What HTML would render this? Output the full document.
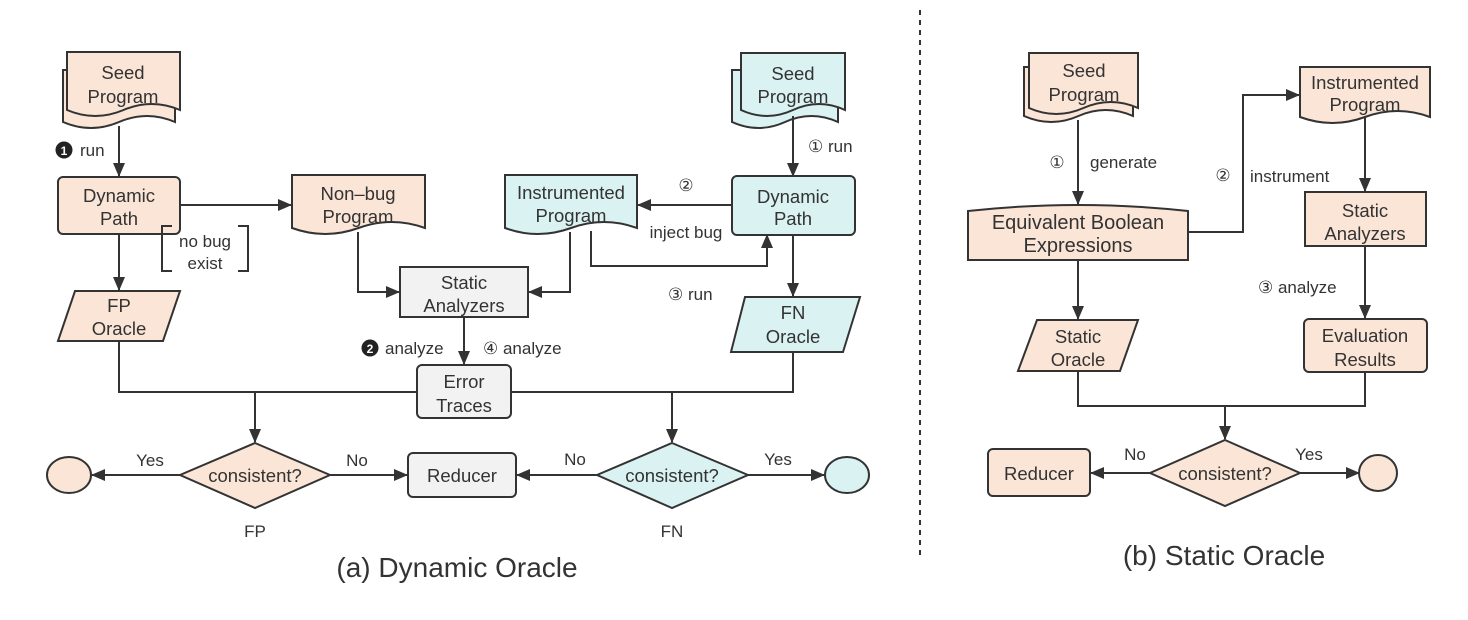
<!DOCTYPE html>
<html><head><meta charset="utf-8"><style>
html,body{margin:0;padding:0;background:#fff;}
svg{display:block;}
text{font-family:"Liberation Sans","DejaVu Sans",sans-serif;fill:#333;}
.n{font-size:18.5px;text-anchor:middle;}
.l{font-size:17px;}
.t{font-size:28px;text-anchor:middle;}
.s{stroke:#333;stroke-width:2;fill:none;}
.p{fill:#fbe5d6;stroke:#333;stroke-width:2;}
.c{fill:#daf2f2;stroke:#333;stroke-width:2;}
.g{fill:#f2f2f2;stroke:#333;stroke-width:2;}
</style></head><body>
<svg width="1468" height="620" viewBox="0 0 1468 620" xmlns="http://www.w3.org/2000/svg">
<defs><marker id="a" viewBox="0 0 14 12" refX="13" refY="6" markerWidth="14" markerHeight="12" markerUnits="userSpaceOnUse" orient="auto"><path d="M0,0 L14,6 L0,12 Z" fill="#333"/></marker></defs>

<line x1="920" y1="10" x2="920" y2="555" stroke="#333" stroke-width="2" stroke-dasharray="5,5"/>

<!-- ===== (a) ===== -->
<path class="p" d="M63,70 H175 V122 Q147,110 119,122 Q91,134 63,122 Z"/>
<path class="p" d="M67,52 H180 V110 Q151.75,98 123.5,110 Q95.25,122 67,110 Z"/>
<text class="n" x="123" y="79">Seed</text><text class="n" x="123" y="103">Program</text>
<path class="s" d="M119,126 V176" marker-end="url(#a)"/>
<circle cx="64" cy="150" r="8.5" fill="#222"/><text x="64" y="155" font-size="12" text-anchor="middle" style="fill:#fff;font-weight:bold">1</text>
<text class="l" x="80" y="156">run</text>

<rect class="p" x="58" y="177" width="122" height="57" rx="5"/>
<text class="n" x="119" y="202">Dynamic</text><text class="n" x="119" y="225">Path</text>
<path class="s" d="M180,205 H291" marker-end="url(#a)"/>
<path class="s" d="M172,226 H162 V271 H172 M238,226 H248 V271 H238" stroke-width="1.5"/>
<text class="l" x="205" y="247" text-anchor="middle">no bug</text><text class="l" x="205" y="269" text-anchor="middle">exist</text>
<path class="s" d="M119,234 V290" marker-end="url(#a)"/>
<path class="p" d="M75,291 H180 L163,341 H58 Z"/>
<text class="n" x="119" y="312">FP</text><text class="n" x="119" y="335">Oracle</text>

<path class="p" d="M292,175 H425 V228 Q391.75,216 358.5,228 Q325.25,240 292,228 Z"/>
<text class="n" x="358" y="200">Non–bug</text><text class="n" x="358" y="223">Program</text>
<path class="s" d="M358,232 V292 H399" marker-end="url(#a)"/>

<rect class="g" x="400" y="267" width="128" height="50"/>
<text class="n" x="464" y="289">Static</text><text class="n" x="464" y="312">Analyzers</text>

<path class="c" d="M505,175 H637 V228 Q604,216 571,228 Q538,240 505,228 Z"/>
<text class="n" x="571" y="199">Instrumented</text><text class="n" x="571" y="222">Program</text>
<path class="s" d="M570,232 V292 H529" marker-end="url(#a)"/>
<path class="s" d="M591,231 V266 H767 V235" marker-end="url(#a)"/>

<path class="c" d="M732,70 H838 V122 Q811.5,110 785,122 Q758.5,134 732,122 Z"/>
<path class="c" d="M741,53 H845 V110 Q819,98 793,110 Q767,122 741,110 Z"/>
<text class="n" x="793" y="80">Seed</text><text class="n" x="793" y="103">Program</text>
<path class="s" d="M793,116 V176" marker-end="url(#a)"/>
<text class="l" x="808" y="152">① run</text>

<rect class="c" x="732" y="176" width="123" height="59" rx="5"/>
<text class="n" x="793" y="203">Dynamic</text><text class="n" x="793" y="225">Path</text>
<path class="s" d="M732,205 H638" marker-end="url(#a)"/>
<text class="l" x="686" y="191" text-anchor="middle">②</text>
<text class="l" x="686" y="238" text-anchor="middle">inject bug</text>
<text class="l" x="668" y="300">③ run</text>
<path class="s" d="M793,235 V296" marker-end="url(#a)"/>
<path class="c" d="M745,297 H860 L843,352 H731 Z"/>
<text class="n" x="793" y="319">FN</text><text class="n" x="793" y="343">Oracle</text>

<path class="s" d="M464,317 V364" marker-end="url(#a)"/>
<circle cx="370" cy="348" r="8.5" fill="#222"/><text x="370" y="353" font-size="12" text-anchor="middle" style="fill:#fff;font-weight:bold">2</text>
<text class="l" x="385" y="354">analyze</text>
<text class="l" x="483" y="354">④ analyze</text>
<rect class="g" x="417" y="365" width="94" height="53" rx="5"/>
<text class="n" x="464" y="388">Error</text><text class="n" x="464" y="412">Traces</text>

<path class="s" d="M119,341 V392 H417"/>
<path class="s" d="M793,352 V392 H511"/>
<path class="s" d="M255,392 V442" marker-end="url(#a)"/>
<path class="s" d="M672,392 V442" marker-end="url(#a)"/>

<path class="p" d="M255,443 L330,475 L255,508 L180,475 Z"/>
<text class="n" x="255" y="482">consistent?</text>
<path class="s" d="M180,475 H92" marker-end="url(#a)"/>
<ellipse class="p" cx="69" cy="475" rx="22" ry="18"/>
<text class="l" x="150" y="466" text-anchor="middle">Yes</text>
<path class="s" d="M330,475 H407" marker-end="url(#a)"/>
<text class="l" x="357" y="466" text-anchor="middle">No</text>
<rect class="g" x="408" y="453" width="108" height="44" rx="5"/>
<text class="n" x="462" y="482">Reducer</text>
<text class="l" x="255" y="537" text-anchor="middle">FP</text>

<path class="c" d="M672,443 L748,475 L672,508 L597,475 Z"/>
<text class="n" x="672" y="482">consistent?</text>
<path class="s" d="M597,475 H517" marker-end="url(#a)"/>
<text class="l" x="575" y="465" text-anchor="middle">No</text>
<path class="s" d="M748,475 H824" marker-end="url(#a)"/>
<text class="l" x="778" y="465" text-anchor="middle">Yes</text>
<ellipse class="c" cx="847" cy="475" rx="22" ry="18"/>
<text class="l" x="672" y="537" text-anchor="middle">FN</text>

<text class="t" x="457" y="577">(a) Dynamic Oracle</text>

<!-- ===== (b) ===== -->
<path class="p" d="M1024,67 H1133 V116 Q1105.75,104 1078.5,116 Q1051.25,128 1024,116 Z"/>
<path class="p" d="M1029,53 H1138 V108 Q1110.75,96 1083.5,108 Q1056.25,120 1029,108 Z"/>
<text class="n" x="1084" y="77">Seed</text><text class="n" x="1084" y="101">Program</text>
<path class="s" d="M1078,120 V204" marker-end="url(#a)"/>
<text class="l" x="1057" y="168" text-anchor="middle">①</text>
<text class="l" x="1090" y="168">generate</text>

<path class="p" d="M968,211 Q1078,199 1188,211 V260 H968 Z"/>
<text x="1078" y="229" font-size="20" text-anchor="middle">Equivalent Boolean</text><text x="1078" y="252" font-size="20" text-anchor="middle">Expressions</text>
<path class="s" d="M1188,232 H1243 V95 H1299" marker-end="url(#a)"/>
<text class="l" x="1223" y="181" text-anchor="middle">②</text>
<text class="l" x="1250" y="182">instrument</text>

<path class="p" d="M1300,67 H1430 V117 Q1397.5,105 1365,117 Q1332.5,129 1300,117 Z"/>
<text class="n" x="1365" y="89">Instrumented</text><text class="n" x="1365" y="111">Program</text>
<path class="s" d="M1365,116 V191" marker-end="url(#a)"/>
<rect class="p" x="1305" y="192" width="121" height="54"/>
<text class="n" x="1365" y="217">Static</text><text class="n" x="1365" y="240">Analyzers</text>
<path class="s" d="M1365,246 V318" marker-end="url(#a)"/>
<text class="l" x="1258" y="293">③ analyze</text>
<rect class="p" x="1304" y="319" width="123" height="53" rx="5"/>
<text class="n" x="1365" y="342">Evaluation</text><text class="n" x="1365" y="366">Results</text>

<path class="s" d="M1078,260 V319" marker-end="url(#a)"/>
<path class="p" d="M1037,320 H1138 L1120,371 H1018 Z"/>
<text class="n" x="1078" y="343">Static</text><text class="n" x="1078" y="366">Oracle</text>

<path class="s" d="M1078,371 V406 H1365 V372"/>
<path class="s" d="M1225,406 V439" marker-end="url(#a)"/>
<path class="p" d="M1225,440 L1300,473 L1225,506 L1150,473 Z"/>
<text class="n" x="1225" y="480">consistent?</text>
<path class="s" d="M1150,473 H1091" marker-end="url(#a)"/>
<text class="l" x="1135" y="460" text-anchor="middle">No</text>
<rect class="p" x="988" y="449" width="102" height="47" rx="5"/>
<text class="n" x="1039" y="480">Reducer</text>
<path class="s" d="M1300,473 H1359" marker-end="url(#a)"/>
<text class="l" x="1309" y="460" text-anchor="middle">Yes</text>
<ellipse class="p" cx="1378" cy="473" rx="19" ry="18"/>

<text class="t" x="1224" y="565">(b) Static Oracle</text>
</svg>
</body></html>
